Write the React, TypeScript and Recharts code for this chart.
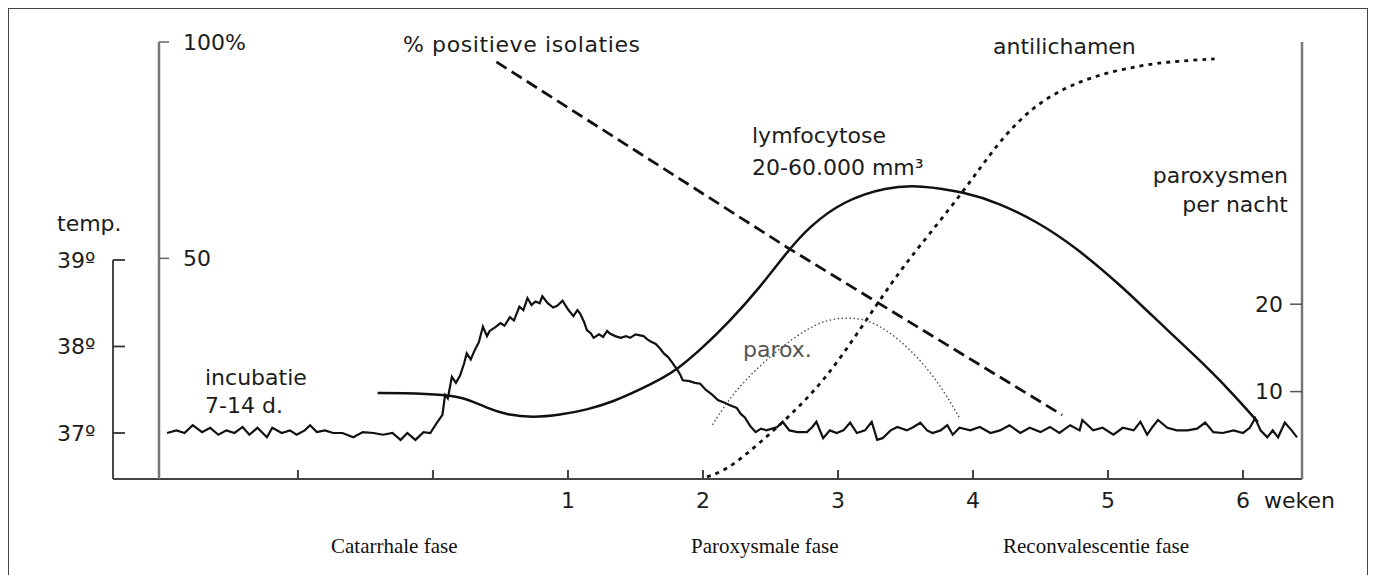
import { ComposedChart, Line, XAxis, YAxis, ReferenceLine } from 'recharts';

const WEEK_TICKS = [-1, 0, 1, 2, 3, 4, 5, 6];
const TEMP_TICKS = [37, 38, 39];
const PCT_TICKS = [50, 100];
const PAROX_TICKS = [10, 20];

// [week, temperature °C]
const temperature: [number, number][] = [
  [-1.97, 37.0], [-1.9, 37.03], [-1.84, 37.0], [-1.78, 37.09], [-1.71, 37.01], [-1.65, 37.06],
  [-1.59, 36.98], [-1.53, 37.03], [-1.47, 37.0], [-1.41, 37.07], [-1.36, 36.98], [-1.3, 37.06],
  [-1.23, 36.95], [-1.19, 37.06], [-1.12, 37.0], [-1.06, 37.03], [-1.01, 36.98], [-0.95, 37.03],
  [-0.91, 37.09], [-0.86, 37.01], [-0.8, 37.03], [-0.74, 37.0], [-0.67, 37.0], [-0.59, 36.95],
  [-0.52, 37.01], [-0.44, 37.0], [-0.37, 36.98], [-0.3, 37.0], [-0.24, 36.92], [-0.19, 37.0],
  [-0.13, 36.92], [-0.07, 37.01], [-0.02, 37.0],
  [0.03, 37.12], [0.07, 37.21], [0.09, 37.44], [0.11, 37.4], [0.14, 37.65], [0.17, 37.58],
  [0.2, 37.66], [0.23, 37.8], [0.25, 37.92], [0.28, 37.85], [0.31, 37.96], [0.34, 38.05],
  [0.37, 38.23], [0.4, 38.12], [0.42, 38.18], [0.46, 38.22], [0.5, 38.27], [0.53, 38.24],
  [0.57, 38.34], [0.6, 38.3], [0.64, 38.46], [0.67, 38.42], [0.7, 38.56], [0.73, 38.48],
  [0.76, 38.52], [0.79, 38.5], [0.81, 38.58], [0.85, 38.5], [0.89, 38.45], [0.92, 38.47],
  [0.96, 38.53], [1.0, 38.43], [1.04, 38.35], [1.07, 38.42], [1.09, 38.38], [1.12, 38.28],
  [1.14, 38.19], [1.17, 38.15], [1.19, 38.1], [1.23, 38.14], [1.26, 38.11], [1.29, 38.18],
  [1.31, 38.15], [1.35, 38.12], [1.39, 38.1], [1.43, 38.12], [1.46, 38.1], [1.5, 38.14],
  [1.56, 38.12], [1.59, 38.08], [1.61, 38.06], [1.65, 38.03], [1.68, 37.98], [1.71, 37.92],
  [1.74, 37.88], [1.77, 37.82], [1.81, 37.73], [1.83, 37.68], [1.85, 37.61], [1.9, 37.6],
  [1.94, 37.58], [1.98, 37.57], [2.02, 37.5], [2.07, 37.44], [2.11, 37.38], [2.16, 37.35],
  [2.2, 37.32], [2.25, 37.29], [2.28, 37.22], [2.31, 37.18], [2.35, 37.08], [2.39, 37.01],
  [2.43, 37.05], [2.47, 37.03], [2.55, 37.07], [2.59, 37.13], [2.64, 37.03], [2.7, 37.01],
  [2.77, 37.01], [2.81, 37.07], [2.84, 37.13], [2.89, 36.94], [2.94, 37.03], [2.99, 37.0],
  [3.04, 37.03], [3.09, 37.12], [3.14, 37.0], [3.2, 37.03], [3.25, 37.13], [3.29, 36.92],
  [3.33, 36.94], [3.39, 37.03], [3.44, 37.07], [3.51, 37.03], [3.56, 37.07], [3.61, 37.12],
  [3.66, 37.03], [3.7, 37.0], [3.76, 37.03], [3.81, 37.09], [3.85, 36.98], [3.9, 37.06],
  [3.98, 37.03], [4.05, 37.07], [4.13, 37.0], [4.2, 37.03], [4.27, 37.09], [4.35, 37.0],
  [4.42, 37.06], [4.5, 37.01], [4.57, 37.07], [4.64, 37.0], [4.72, 37.09], [4.79, 37.03],
  [4.81, 37.15], [4.89, 37.03], [4.96, 37.06], [5.04, 36.98], [5.11, 37.06], [5.19, 37.03],
  [5.24, 37.13], [5.29, 36.98], [5.33, 37.07], [5.37, 37.15], [5.44, 37.06], [5.51, 37.03],
  [5.59, 37.03], [5.66, 37.05], [5.72, 37.12], [5.78, 37.01], [5.85, 37.0], [5.93, 37.03],
  [6.0, 37.0], [6.05, 37.06], [6.09, 37.17], [6.13, 37.03], [6.18, 36.95], [6.22, 37.03],
  [6.26, 36.95], [6.31, 37.12], [6.36, 37.03], [6.4, 36.95],
];

// [week, relative level on the % scale]
const lymphocytosis: [number, number][] = [
  [-0.41, 18.9], [-0.24, 18.9], [0.1, 18.5], [0.25, 17.6], [0.4, 15.4], [0.55, 13.8],
  [0.74, 13.2], [0.94, 13.8], [1.14, 15.0], [1.33, 16.8], [1.53, 19.6], [1.7, 22.3],
  [1.81, 24.4], [1.98, 28.8], [2.2, 35.5], [2.42, 43.2], [2.63, 51.8], [2.79, 57.4],
  [3.04, 63.3], [3.36, 66.5], [3.61, 66.9], [3.94, 65.3], [4.19, 62.8], [4.48, 58.4],
  [4.76, 52.6], [5.11, 43.3], [5.3, 37.5], [5.67, 26.8], [5.92, 18.9], [6.11, 12.2],
];

// % positieve isolaties
const isolations: [number, number][] = [
  [0.47, 95.4], [2.63, 52.4], [4.66, 13.8],
];

const antibodies: [number, number][] = [
  [2.03, -0.5], [2.18, 1.1], [2.42, 7.3], [2.67, 14.3], [2.92, 22.6], [3.16, 33.4],
  [3.41, 45.0], [3.57, 51.5], [3.94, 65.8], [4.19, 77.0], [4.44, 85.0], [4.69, 89.6],
  [4.93, 92.4], [5.18, 94.2], [5.42, 95.4], [5.79, 96.1],
];

// paroxysmen per nacht
const paroxysms: [number, number][] = [
  [2.07, 6.2], [2.22, 9.8], [2.44, 13.3], [2.67, 16.2], [2.89, 18.2], [3.07, 18.5],
  [3.24, 18.2], [3.44, 16.2], [3.63, 13.3], [3.78, 10.2], [3.9, 7.0],
];

const toRows = (pts: [number, number][]) => pts.map(([w, v]) => ({ w, v }));

const SANS = 'DejaVu Sans';
const INK = '#1c1c1c';

const WeekTick = ({ x, y, payload }: any) => (
  <g>
    <line x1={x} x2={x} y1={y} y2={y - 9} stroke="#444" strokeWidth={2} />
    {payload.value >= 1 && (
      <text x={x} y={y + 29} textAnchor="middle" fontSize={22} fontFamily={SANS} fill={INK}>
        {payload.value}
      </text>
    )}
    {payload.value === 6 && (
      <text x={x + 21} y={y + 29} textAnchor="start" fontSize={22} fontFamily={SANS} fill={INK}>
        weken
      </text>
    )}
  </g>
);

const TempTick = ({ x, y, payload }: any) => (
  <g>
    {payload.value === 39 && (
      <text x={x - 68} y={y - 29} fontSize={22} fontFamily={SANS} fill={INK}>
        temp.
      </text>
    )}
    <text x={x - 68} y={y} dy="0.355em" fontSize={22} fontFamily={SANS} fill={INK}>
      {`${payload.value}º`}
    </text>
  </g>
);

const tickFont = { fill: INK, fontSize: 22, fontFamily: SANS };

export default function App() {
  return (
    <div style={{ position: 'absolute', left: 0, top: 0, width: 1375, height: 575, background: '#fff', overflow: 'hidden' }}>
      <div
        style={{
          position: 'absolute',
          left: 8,
          top: 8,
          width: 1360,
          height: 620,
          border: '1.5px solid #444',
          boxSizing: 'border-box',
        }}
      />
      <div style={{ position: 'absolute', left: 0, top: 0 }}>
        <ComposedChart width={1375} height={575} margin={{ top: 42, right: 73, bottom: 66, left: 113 }}>
          <XAxis
            xAxisId={0}
            type="number"
            dataKey="w"
            domain={[-2.37, 6.437]}
            allowDataOverflow
            ticks={WEEK_TICKS}
            interval={0}
            height={30}
            tickSize={0}
            tickMargin={0}
            tickLine={false}
            axisLine={{ stroke: '#444', strokeWidth: 2 }}
            tick={<WeekTick />}
          />
          <YAxis
            yAxisId={0}
            orientation="left"
            mirror
            width={46}
            type="number"
            domain={[36.468, 41.52]}
            allowDataOverflow
            ticks={TEMP_TICKS}
            interval={0}
            axisLine={false}
            tickSize={12}
            tickMargin={0}
            tickLine={{ stroke: '#333', strokeWidth: 1.8 }}
            tick={<TempTick />}
          />
          <YAxis
            yAxisId={1}
            orientation="left"
            mirror
            width={60}
            type="number"
            domain={[-1, 100]}
            allowDataOverflow
            ticks={PCT_TICKS}
            interval={0}
            tickFormatter={(v: number) => (v === 100 ? '100%' : `${v}`)}
            tickSize={10}
            tickMargin={14}
            axisLine={{ stroke: '#777', strokeWidth: 2.5 }}
            tickLine={{ stroke: '#666', strokeWidth: 1.5 }}
            tick={tickFont}
          />
          <YAxis
            yAxisId={2}
            orientation="right"
            mirror
            width={60}
            type="number"
            domain={[0, 50]}
            allowDataOverflow
            ticks={PAROX_TICKS}
            interval={0}
            tickSize={12}
            tickMargin={7}
            axisLine={{ stroke: '#777', strokeWidth: 2.5 }}
            tickLine={{ stroke: '#555', strokeWidth: 1.5 }}
            tick={tickFont}
          />
          <ReferenceLine
            xAxisId={0}
            yAxisId={0}
            segment={[{ x: -2.37, y: 39 }, { x: -2.37, y: 36.468 }]}
            stroke="#333"
            strokeWidth={1.8}
            ifOverflow="visible"
          />
          <Line
            name="temp"
            data={toRows(temperature)}
            dataKey="v"
            xAxisId={0}
            yAxisId={0}
            type="linear"
            stroke="#111"
            strokeWidth={2.2}
            dot={false}
            isAnimationActive={false}
          />
          <Line
            name="lymfocytose"
            data={toRows(lymphocytosis)}
            dataKey="v"
            xAxisId={0}
            yAxisId={1}
            type="basis"
            stroke="#111"
            strokeWidth={2.5}
            dot={false}
            isAnimationActive={false}
          />
          <Line
            name="isolaties"
            data={toRows(isolations)}
            dataKey="v"
            xAxisId={0}
            yAxisId={1}
            type="linear"
            stroke="#111"
            strokeWidth={2.8}
            strokeDasharray="12 6"
            dot={false}
            isAnimationActive={false}
          />
          <Line
            name="antilichamen"
            data={toRows(antibodies)}
            dataKey="v"
            xAxisId={0}
            yAxisId={1}
            type="basis"
            stroke="#111"
            strokeWidth={2.8}
            strokeDasharray="4 5"
            dot={false}
            isAnimationActive={false}
          />
          <Line
            name="parox"
            data={toRows(paroxysms)}
            dataKey="v"
            xAxisId={0}
            yAxisId={2}
            type="basis"
            stroke="#444"
            strokeWidth={1.3}
            strokeDasharray="1.5 2.5"
            dot={false}
            isAnimationActive={false}
          />
        </ComposedChart>
      </div>
      <svg width={1375} height={575} style={{ position: 'absolute', left: 0, top: 0, pointerEvents: 'none' }}>
        <g fontFamily={SANS} fontSize={22} fill={INK}>
          <text x={403} y={52} letterSpacing={0.6}>% positieve isolaties</text>
          <text x={993} y={54}>antilichamen</text>
          <text x={752} y={143}>lymfocytose</text>
          <text x={752} y={175}>20-60.000 mm³</text>
          <text x={1288} y={183} textAnchor="end">paroxysmen</text>
          <text x={1288} y={212} textAnchor="end">per nacht</text>
          <text x={205} y={385}>incubatie</text>
          <text x={205} y={413}>7-14 d.</text>
          <text x={743} y={357} fill="#555">parox.</text>
        </g>
        <g fontFamily="Liberation Serif" fontSize={21} fill="#111">
          <text x={331} y={553}>Catarrhale fase</text>
          <text x={691} y={553}>Paroxysmale fase</text>
          <text x={1003} y={553}>Reconvalescentie fase</text>
        </g>
      </svg>
    </div>
  );
}
